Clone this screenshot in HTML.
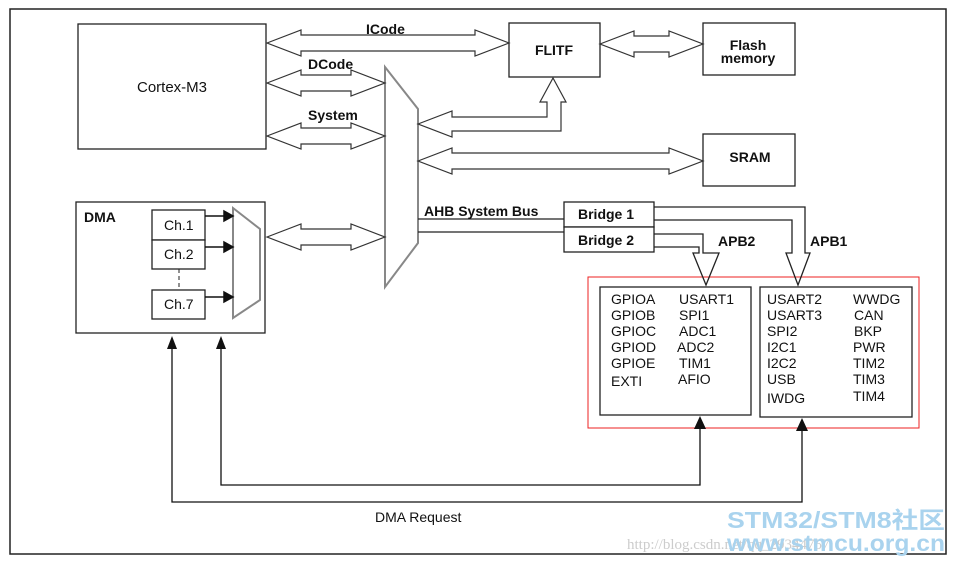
<!DOCTYPE html>
<html><head><meta charset="utf-8"><style>
html,body{margin:0;padding:0;background:#fff;}
svg{display:block;}
text{font-family:"Liberation Sans",Arial,sans-serif;fill:#111;}
</style></head><body>
<svg width="958" height="564" viewBox="0 0 958 564" xmlns="http://www.w3.org/2000/svg">
<rect x="0" y="0" width="958" height="564" fill="#fff"/>
<rect x="10" y="9" width="936" height="545" fill="none" stroke="#222" stroke-width="1.5"/>
<g fill="#fff" stroke="#222" stroke-width="1.3">
<rect x="78" y="24" width="188" height="125"/>
<rect x="509" y="23" width="91" height="54"/>
<rect x="703" y="23" width="92" height="52"/>
<rect x="703" y="134" width="92" height="52"/>
<rect x="76" y="202" width="189" height="131"/>
<rect x="152" y="210" width="53" height="30"/>
<rect x="152" y="240" width="53" height="29"/>
<rect x="152" y="290" width="53" height="29"/>
<rect x="564" y="202" width="90" height="25"/>
<rect x="564" y="227" width="90" height="25"/>
<rect x="600" y="287" width="151" height="128"/>
<rect x="760" y="287" width="152" height="130"/>
</g>
<line x1="179" y1="269" x2="179" y2="290" stroke="#222" stroke-dasharray="4,3"/>
<rect x="588" y="277" width="331" height="151" fill="none" stroke="#e22" stroke-width="1"/>
<polygon points="385,67 418,109 418,243 385,287" fill="#fff" stroke="#888" stroke-width="2"/>
<polygon points="233,208 260,229 260,300 233,318" fill="#fff" stroke="#888" stroke-width="2"/>
<g fill="#fff" stroke="#333" stroke-width="1.2">
<polygon points="267,43 301,30 301,35 475,35 475,30 509,43 475,56 475,51 301,51 301,56"/>
<polygon points="267,83 301,70 301,75 351,75 351,70 385,83 351,96 351,91 301,91 301,96"/>
<polygon points="267,136 301,123 301,128 351,128 351,123 385,136 351,149 351,144 301,144 301,149"/>
<polygon points="267,237 301,224 301,229 351,229 351,224 385,237 351,250 351,245 301,245 301,250"/>
<polygon points="600,44 634,31 634,36 669,36 669,31 703,44 669,57 669,52 634,52 634,57"/>
<polygon points="418,161 452,148 452,153 669,153 669,148 703,161 669,174 669,169 452,169 452,174"/>
<polygon points="418,124 452,111 452,117 547,117 547,102 540,102 553,78 566,102 561,102 561,131 452,131 452,137"/>
</g>
<g fill="none" stroke="#222" stroke-width="1.3">
<polyline points="418,219 564,219"/>
<polyline points="418,232 564,232"/>
<polyline points="654,207 805,207 805,253 810,253 798,285 786,253 792,253 792,220 654,220"/>
<polyline points="654,234 703,234 703,253 719,253 706,285 693,253 699,253 699,247 654,247"/>
</g>
<g stroke="#111" stroke-width="1.5" fill="#111">
<line x1="205" y1="216" x2="225" y2="216"/><polygon points="224,211 233,216 224,221"/>
<line x1="205" y1="247" x2="225" y2="247"/><polygon points="224,242 233,247 224,252"/>
<line x1="205" y1="297" x2="225" y2="297"/><polygon points="224,292 233,297 224,302"/>
</g>
<g fill="none" stroke="#111" stroke-width="1.3">
<polyline points="221,340 221,485 700,485 700,420"/>
<polyline points="172,340 172,502 802,502 802,420"/>
</g>
<g fill="#111">
<polygon points="216,349 221,336 226,349"/>
<polygon points="167,349 172,336 177,349"/>
<polygon points="694,429 700,416 706,429"/>
<polygon points="796,431 802,418 808,431"/>
</g>
<g font-size="14">
<text x="172" y="92" text-anchor="middle" font-size="15">Cortex-M3</text>
<text x="554" y="55" text-anchor="middle" font-weight="bold">FLITF</text>
<text x="748" y="50" text-anchor="middle" font-weight="bold">Flash</text>
<text x="748" y="63" text-anchor="middle" font-weight="bold">memory</text>
<text x="750" y="162" text-anchor="middle" font-weight="bold">SRAM</text>
<text x="366" y="34" font-weight="bold">ICode</text>
<text x="308" y="69" font-weight="bold">DCode</text>
<text x="308" y="120" font-weight="bold">System</text>
<text x="424" y="216" font-weight="bold">AHB System Bus</text>
<text x="578" y="219" font-weight="bold">Bridge 1</text>
<text x="578" y="245" font-weight="bold">Bridge 2</text>
<text x="718" y="246" font-weight="bold">APB2</text>
<text x="810" y="246" font-weight="bold">APB1</text>
<text x="84" y="222" font-weight="bold">DMA</text>
<text x="164" y="230">Ch.1</text>
<text x="164" y="259">Ch.2</text>
<text x="164" y="309">Ch.7</text>
<text x="375" y="522">DMA Request</text>
</g>
<g font-size="14">
<text x="611" y="304">GPIOA</text><text x="611" y="320">GPIOB</text><text x="611" y="336">GPIOC</text>
<text x="611" y="352">GPIOD</text><text x="611" y="368">GPIOE</text><text x="611" y="386">EXTI</text>
<text x="679" y="304">USART1</text><text x="679" y="320">SPI1</text><text x="679" y="336">ADC1</text>
<text x="677" y="352">ADC2</text><text x="679" y="368">TIM1</text><text x="678" y="384">AFIO</text>
<text x="767" y="304">USART2</text><text x="767" y="320">USART3</text><text x="767" y="336">SPI2</text>
<text x="767" y="352">I2C1</text><text x="767" y="368">I2C2</text><text x="767" y="384">USB</text><text x="767" y="403">IWDG</text>
<text x="853" y="304">WWDG</text><text x="854" y="320">CAN</text><text x="854" y="336">BKP</text>
<text x="853" y="352">PWR</text><text x="853" y="368">TIM2</text><text x="853" y="384">TIM3</text><text x="853" y="401">TIM4</text>
</g>
<text x="627" y="549" font-size="15" style="font-family:'Liberation Serif',serif;fill:#ccc">http://blog.csdn.net/qq_29344757</text>
<text x="727" y="528" font-size="23" font-weight="bold" textLength="218" lengthAdjust="spacingAndGlyphs" style="font-family:'Liberation Sans','Noto Sans CJK SC',sans-serif;fill:#a9d3ee">STM32/STM8社区</text>
<text x="727" y="551" font-size="23" font-weight="bold" textLength="218" lengthAdjust="spacingAndGlyphs" style="fill:#a9d3ee">www.stmcu.org.cn</text>
</svg>
</body></html>
